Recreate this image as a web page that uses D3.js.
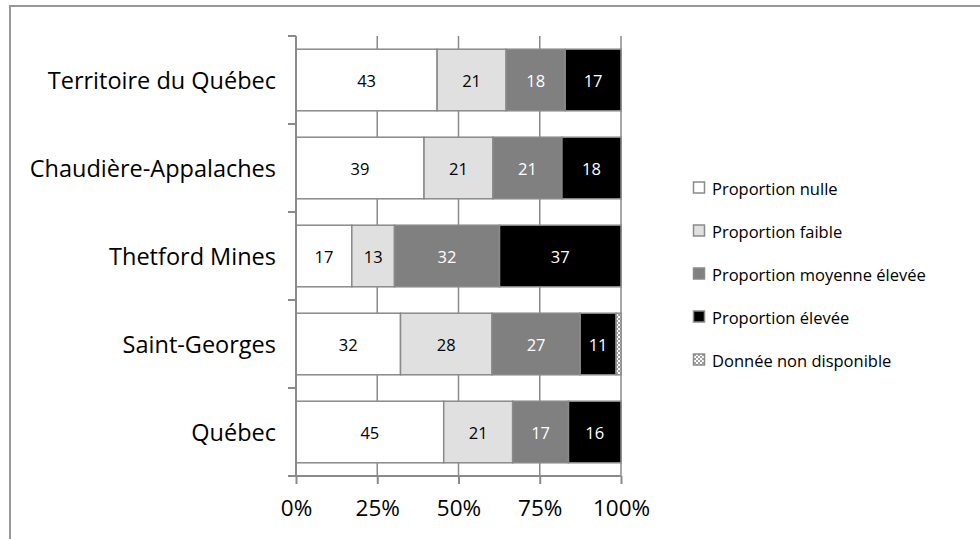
<!DOCTYPE html>
<html><head><meta charset="utf-8">
<script src="https://cdn.jsdelivr.net/npm/d3@7/dist/d3.min.js"></script>
<style>
body{margin:0;background:#fff;}
svg{display:block;font-family:"Open Sans",sans-serif;}
</style></head><body>
<svg id="chart" width="980" height="539"></svg>
<script>
const categories = ["Territoire du Québec","Chaudière-Appalaches","Thetford Mines","Saint-Georges","Québec"];
const seriesNames = ["Proportion nulle","Proportion faible","Proportion moyenne élevée","Proportion élevée","Donnée non disponible"];
const nulle    = [43,39,17,32,45];
const faible   = [21,21,13,28,21];
const moyenne  = [18,21,32,27,17];
const elevee   = [17,18,37,11,16];
const nonDispo = [0,0,0,1.5,0];
const tickValues = [0,0.25,0.5,0.75,1];

const keys = ["nulle","faible","moyenne","elevee","nd"];
const fills = {nulle:"#ffffff",faible:"#e0e0e0",moyenne:"#808080",elevee:"#000000",nd:"url(#hatch)"};
const labelColors = {nulle:"#000",faible:"#000",moyenne:"#fff",elevee:"#fff",nd:"none"};
const rows = categories.map((c,i)=>({cat:c,nulle:nulle[i],faible:faible[i],moyenne:moyenne[i],elevee:elevee[i],nd:nonDispo[i]}));

const svg = d3.select("#chart");
const defs = svg.append("defs");
const pat = defs.append("pattern").attr("id","hatch").attr("patternUnits","userSpaceOnUse").attr("width",4).attr("height",4);
pat.append("rect").attr("width",4).attr("height",4).attr("fill","#fff");
pat.append("rect").attr("x",0).attr("y",0).attr("width",2).attr("height",2).attr("fill","#a0a0a0");
pat.append("rect").attr("x",2).attr("y",2).attr("width",2).attr("height",2).attr("fill","#a0a0a0");

// outer frame
svg.append("path").attr("d","M10,539 V6 H980").attr("fill","none").attr("stroke","#999").attr("stroke-width",2);

const x = d3.scaleLinear().domain([0,1]).range([296,621]);
const y = d3.scaleBand().domain(categories).range([36,476]).paddingInner(0.3).paddingOuter(0.15);

const stack = d3.stack().keys(keys).offset(d3.stackOffsetExpand);
const series = stack(rows);

// gridlines
svg.append("g").selectAll("line").data(tickValues.slice(1)).join("line")
  .attr("x1",d=>x(d)).attr("x2",d=>x(d)).attr("y1",36).attr("y2",476)
  .attr("stroke","#8a8a8a").attr("stroke-width",1.5);

// bars
const g = svg.append("g");
series.forEach(s=>{
  const k = s.key;
  g.append("g").selectAll("rect").data(s.filter(d=>d[1]-d[0]>0)).join("rect")
    .attr("x",d=>x(d[0])).attr("width",d=>x(d[1])-x(d[0]))
    .attr("y",d=>y(d.data.cat)).attr("height",y.bandwidth())
    .attr("fill",fills[k]).attr("stroke","#8a8a8a").attr("stroke-width",1.5);
  if(k!=="nd"){
    g.append("g").selectAll("text").data(s.filter(d=>d.data[k]>0)).join("text")
      .attr("x",d=>(x(d[0])+x(d[1]))/2).attr("y",d=>y(d.data.cat)+y.bandwidth()/2)
      .attr("text-anchor","middle").attr("dominant-baseline","central")
      .attr("font-size",16.5).attr("fill",labelColors[k])
      .text(d=>d3.format("d")(d.data[k]));
  }
});

// left axis line + boundary ticks
const axisCol = "#8a8a8a";
svg.append("line").attr("x1",296).attr("x2",296).attr("y1",36).attr("y2",476).attr("stroke",axisCol).attr("stroke-width",2);
const bounds = [y.range()[0]].concat(categories.map(c=>y(c)+y.bandwidth()+y.step()*y.paddingInner()/2));
bounds[bounds.length-1] = y.range()[1];
svg.append("g").selectAll("line").data(bounds).join("line")
  .attr("x1",288).attr("x2",296).attr("y1",d=>d).attr("y2",d=>d)
  .attr("stroke",axisCol).attr("stroke-width",2);

// category labels
svg.append("g").selectAll("text").data(categories).join("text")
  .attr("x",276).attr("y",d=>y(d)+y.bandwidth()/2)
  .attr("text-anchor","end").attr("dominant-baseline","central")
  .attr("font-size",23.5).attr("fill","#000").text(d=>d);

// bottom axis
const xAxis = d3.axisBottom(x).tickValues(tickValues).tickFormat(d3.format(".0%")).tickSize(8).tickPadding(16);
const ax = svg.append("g").attr("transform","translate(0,476)").call(xAxis);
ax.select(".domain").attr("stroke",axisCol).attr("stroke-width",2).attr("d","M296,0H621");
ax.selectAll(".tick line").attr("stroke",axisCol).attr("stroke-width",2);
ax.selectAll(".tick text").attr("font-size",22.5).attr("fill","#000").attr("font-family","'Open Sans',sans-serif");

// legend
const legend = svg.append("g");
seriesNames.forEach((n,i)=>{
  const yy = 188 + i*43;
  legend.append("rect").attr("x",693.5).attr("y",yy-6).attr("width",11).attr("height",11)
    .attr("fill",fills[keys[i]]).attr("stroke","#8a8a8a").attr("stroke-width",1.5);
  legend.append("text").attr("x",712).attr("y",yy).attr("dominant-baseline","central")
    .attr("font-size",16.5).attr("fill","#000").text(n);
});
</script>
</body></html>
